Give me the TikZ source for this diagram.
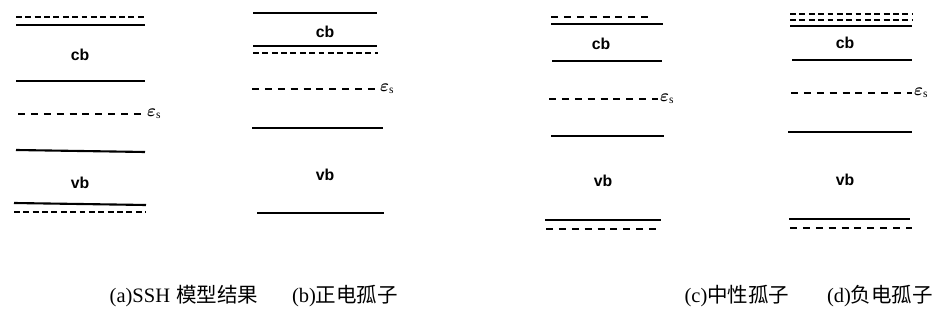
\documentclass[tikz,border=0pt]{standalone}
\usepackage{fontspec}
\usepackage{bm}
\setmainfont{Liberation Serif}
\setsansfont{Liberation Sans}
\newfontfamily\cjk{Noto Sans CJK SC}
\usetikzlibrary{positioning}

\begin{document}
\begin{tikzpicture}[
    x=0.03cm, y=-0.03cm,
    level/.style={line width=1.8pt},
    gap/.style={line width=1.6pt, dash pattern=on 5pt off 3pt},
    midgap/.style={line width=1.6pt, dash pattern=on 6pt off 5pt},
    band/.style={font=\fontsize{13.5}{15}\selectfont\sffamily\bfseries},
    eps/.style={font=\fontsize{14}{16}\selectfont, inner sep=1pt, anchor=west},
    caption/.style={font=\fontsize{17.5}{19}\selectfont, inner sep=0pt}
]
    \useasboundingbox (0,0) rectangle (935,320);

    % (a) SSH model
    \draw[gap] (16,17) -- (145,17);
    \draw[level] (16,25) -- (145,25);
    \node[band] (cbA) at (80,55) {cb};
    \draw[level] (16,81) -- (145,81);
    \draw[midgap] (18,114) -- (145,114) node[eps] (epsA) {$\bm{\varepsilon}_{\mathrm s}$};
    \draw[level] (16,150) -- (145,152);
    \node[band] (vbA) at (80,183) {vb};
    \draw[level] (14,203) -- (146,205);
    \draw[gap] (14,212) -- (146,212);

    % (b) positive soliton
    \draw[level] (253,13) -- (377,13);
    \node[band] (cbB) at (325,32) {cb};
    \draw[level] (253,46) -- (377,46);
    \draw[gap] (253,53) -- (378,53);
    \draw[midgap] (252,89) -- (378,89) node[eps] (epsB) {$\bm{\varepsilon}_{\mathrm s}$};
    \draw[level] (252,128) -- (383,128);
    \node[band] (vbB) at (325,175) {vb};
    \draw[level] (257,213) -- (384,213);

    % (c) neutral soliton
    \draw[midgap] (551,17) -- (650,17);
    \draw[level] (551,24) -- (663,24);
    \node[band] (cbC) at (601,44) {cb};
    \draw[level] (552,61) -- (662,61);
    \draw[midgap] (549,99) -- (658,99) node[eps] (epsC) {$\bm{\varepsilon}_{\mathrm s}$};
    \draw[level] (551,136) -- (664,136);
    \node[band] (vbC) at (603,181) {vb};
    \draw[level] (545,220) -- (661,220);
    \draw[midgap] (546,229) -- (661,229);

    % (d) negative soliton
    \draw[gap] (790,14) -- (912,14);
    \draw[gap] (790,20) -- (912,20);
    \draw[level] (790,26) -- (912,26);
    \node[band] (cbD) at (845,43) {cb};
    \draw[level] (792,60) -- (912,60);
    \draw[midgap] (791,93) -- (912,93) node[eps] (epsD) {$\bm{\varepsilon}_{\mathrm s}$};
    \draw[level] (788,132) -- (912,132);
    \node[band] (vbD) at (845,180) {vb};
    \draw[level] (789,219) -- (910,219);
    \draw[midgap] (790,228) -- (912,228);

    % captions
    \node[caption] (capA) at (184,296) {(a)SSH\hspace{0.3em}{\cjk 模型结果}};
    \node[caption] (capB) at (345,296) {(b){\cjk 正电孤子}};
    \node[caption] (capC) at (737,296) {(c){\cjk 中性孤子}};
    \node[caption] (capD) at (880,296) {(d){\cjk 负电孤子}};
\end{tikzpicture}
\end{document}
